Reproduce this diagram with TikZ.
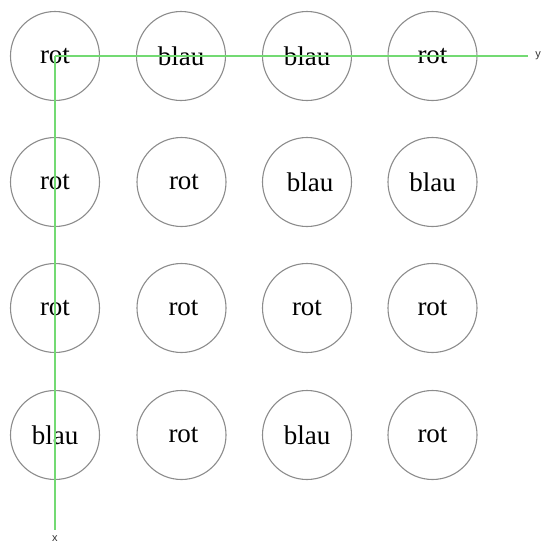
\documentclass[tikz,border=0pt]{standalone}
\usepackage{fontspec}
\setmainfont{Liberation Serif}
\newfontfamily\axisfont{Liberation Sans}
\definecolor{axisgreen}{RGB}{115,218,115}
\definecolor{ringgray}{RGB}{140,140,140}
\tikzset{
  ball/.style={circle, draw=ringgray, line width=1.1pt, minimum size=89pt, inner sep=0pt,
    font=\fontsize{27}{30}\selectfont, text=black},
  axisline/.style={draw=axisgreen, line width=1.8pt},
  axislabel/.style={font=\axisfont\fontsize{11}{12}\selectfont, text=black!80, inner sep=0pt}
}
\begin{document}
\begin{tikzpicture}[x=1pt,y=-1pt]
\useasboundingbox (0,0) rectangle (544,544);
% row 1
\node[ball] (c11) at (55,56) {rot};
\node[ball] (c12) at (181,56) {blau};
\node[ball] (c13) at (307,56) {blau};
\node[ball] (c14) at (432.5,56) {rot};
% row 2
\node[ball] (c21) at (55,182) {rot};
\node[ball] (c22) at (181.5,182) {\hspace*{5pt}rot};
\node[ball] (c23) at (307,182) {\hspace*{6pt}blau};
\node[ball] (c24) at (432.5,182) {blau};
% row 3
\node[ball] (c31) at (55,308) {rot};
\node[ball] (c32) at (181.5,308) {\hspace*{4pt}rot};
\node[ball] (c33) at (307,308) {rot};
\node[ball] (c34) at (432.5,308) {rot};
% row 4
\node[ball] (c41) at (55,435) {blau};
\node[ball] (c42) at (181.5,435) {\hspace*{4pt}rot};
\node[ball] (c43) at (307,435) {blau};
\node[ball] (c44) at (432.5,435) {rot};
% axes
\coordinate (yend) at (528,56);
\coordinate (xend) at (55,530);
\draw[axisline] (c11.center) -- (yend);
\draw[axisline] (c11.center) -- (xend);
\node[axislabel] (ylab) at (538,56) {y};
\node[axislabel] (xlab) at (55,539) {x};
\end{tikzpicture}
\end{document}
